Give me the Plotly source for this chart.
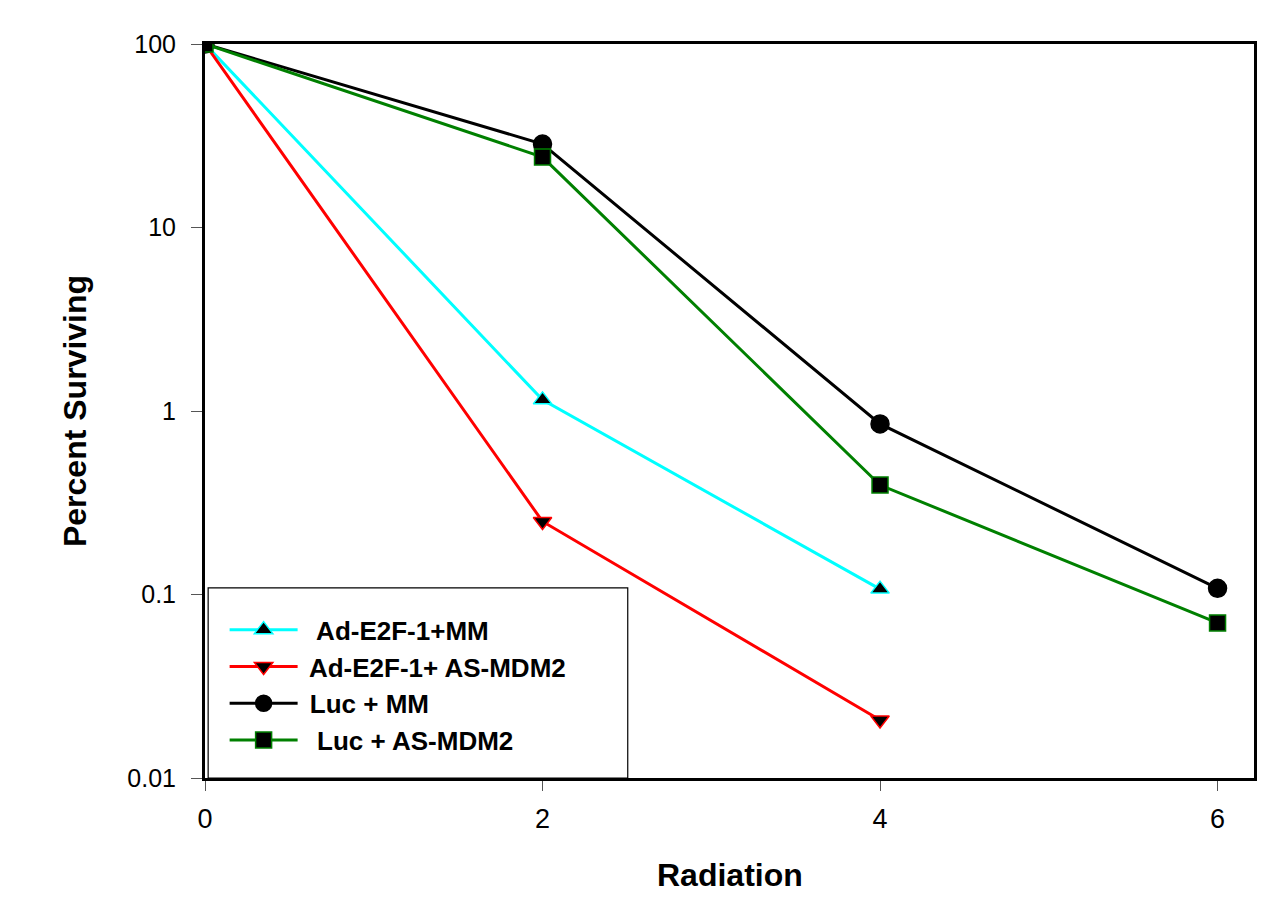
import plotly.graph_objects as go

radiation = [0, 2, 4, 6]
ad_e2f1_mm = [100, 1.15, 0.107]
ad_e2f1_as = [100, 0.25, 0.0207]
luc_mm = [100, 28.5, 0.85, 0.108]
luc_as = [100, 24.2, 0.395, 0.070]

series = [
    ("  Ad-E2F-1+MM", radiation[:3], ad_e2f1_mm, "#00FFFF", "triangle-up"),
    (" Ad-E2F-1+ AS-MDM2", radiation[:3], ad_e2f1_as, "#FF0000", "triangle-down"),
    (" Luc + MM", radiation, luc_mm, "#000000", "circle"),
    ("  Luc + AS-MDM2", radiation, luc_as, "#008000", "square"),
]

y_ticks = [100, 10, 1, 0.1, 0.01]
y_ticktext = ["100", "10", "1", "0.1", "0.01"]

PLOT_H = 734

fig = go.Figure()
for name, xs, ys, color, sym in series:
    fig.add_trace(go.Scatter(
        x=xs, y=ys, name=name, mode="lines+markers",
        line=dict(color=color, width=3),
        marker=dict(symbol=sym, size=16 if sym != "circle" else 18, color="black",
                    line=dict(color=color, width=1.5)),
        legendgroup=name,
    ))

fig.update_layout(
    width=1270, height=891,
    margin=dict(l=197, r=24, t=36, b=121, autoexpand=False),
    plot_bgcolor="white", paper_bgcolor="white",
    font=dict(family="Liberation Sans, Arial, sans-serif", color="black"),
    showlegend=True,
    legend=dict(
        x=0.0187, y=0.234, xanchor="left", yanchor="top",
        font=dict(size=26, family="Liberation Sans, Arial, sans-serif", color="black", weight="bold"),
        bgcolor="rgba(0,0,0,0)", borderwidth=0,
        tracegroupgap=0, itemwidth=68,
    ),
    shapes=[dict(type="rect", xref="paper", yref="paper",
                 x0=0.003, x1=0.403, y0=0, y1=0.259,
                 line=dict(color="black", width=1.2), fillcolor="rgba(0,0,0,0)")],
    annotations=[dict(text="<b>Radiation</b>", xref="paper", yref="paper",
                      x=0.5, y=-97 / PLOT_H, xanchor="center", yanchor="middle",
                      showarrow=False, font=dict(size=32, color="black"))],
)

fig.update_xaxes(
    range=[0, 6.216], tickvals=radiation[:4], ticktext=["0", "2", "4", "6"],
    showline=True, linecolor="black", linewidth=3, mirror=True,
    ticks="outside", ticklen=10, tickcolor="#555", tickwidth=1,
    showgrid=False, zeroline=False, automargin=False,
    tickfont=dict(size=27), ticklabelstandoff=5,
)
fig.update_yaxes(
    type="log", range=[-2, 2], tickvals=y_ticks, ticktext=y_ticktext,
    showline=True, linecolor="black", linewidth=3, mirror=True,
    ticks="outside", ticklen=11, tickcolor="#555", tickwidth=1,
    showgrid=False, zeroline=False, automargin=False,
    tickfont=dict(size=25), ticklabelstandoff=10,
    title=dict(text="<b>Percent Surviving</b>", font=dict(size=32), standoff=32),
)

fig.write_html("out.html")
